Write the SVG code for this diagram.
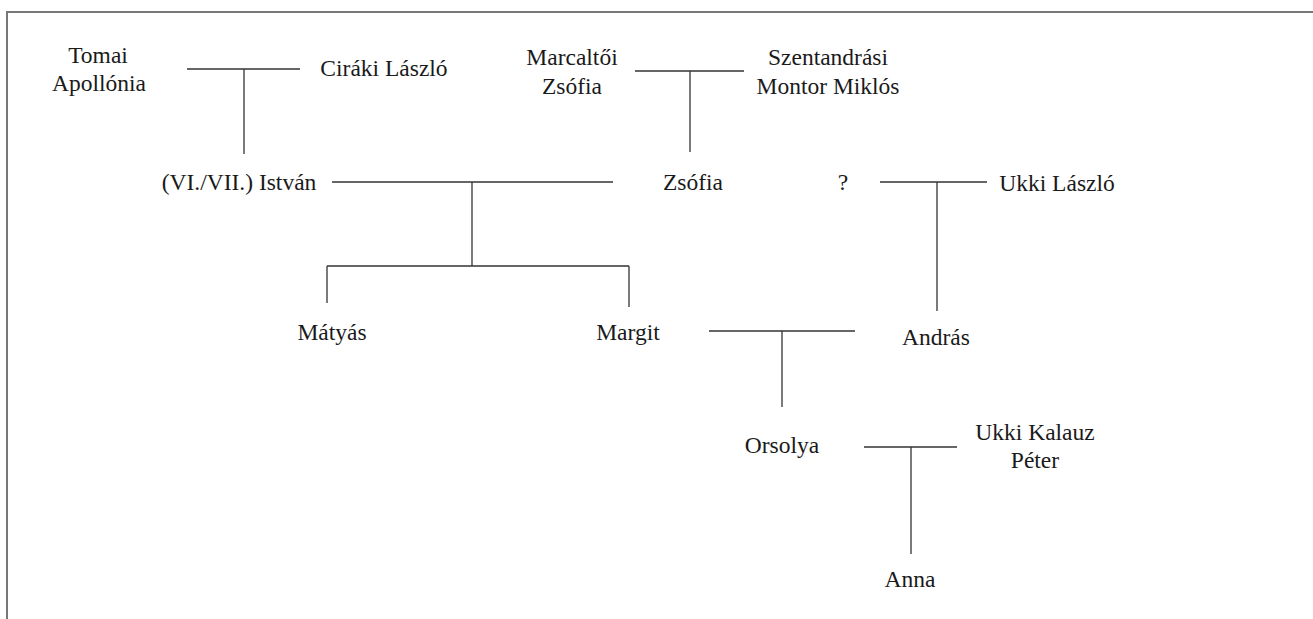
<svg xmlns="http://www.w3.org/2000/svg" width="1313" height="619" viewBox="0 0 1313 619">
<style>
.t text{font-size:23.5px;fill:#1a1a1a;text-anchor:middle}
.c line{stroke:#333;stroke-width:1.3;fill:none}
.frame{stroke:#777;stroke-width:2;fill:none}
</style>
<rect width="1313" height="619" fill="#fff"/>
<path class="frame" d="M7 640 V12 H1320"/>
<g id="connectors" class="c">
<line x1="187" y1="69" x2="300" y2="69"/>
<line x1="244" y1="69" x2="244" y2="154"/>
<line x1="635" y1="71" x2="744" y2="71"/>
<line x1="690" y1="71" x2="690" y2="152"/>
<line x1="332" y1="182" x2="613" y2="182"/>
<line x1="472" y1="182" x2="472" y2="266"/>
<line x1="327" y1="266" x2="629" y2="266"/>
<line x1="327" y1="266" x2="327" y2="303"/>
<line x1="629" y1="266" x2="629" y2="307"/>
<line x1="880" y1="182" x2="987" y2="182"/>
<line x1="937" y1="182" x2="937" y2="311"/>
<line x1="709" y1="331" x2="855" y2="331"/>
<line x1="782" y1="331" x2="782" y2="407"/>
<line x1="864" y1="447" x2="957" y2="447"/>
<line x1="911" y1="447" x2="911" y2="554"/>
</g>
<g class="t" font-family="'Liberation Serif', 'Times New Roman', Times, 'DejaVu Serif', serif">
<g id="tomai-apollonia"><text x="98" y="63">Tomai</text><text x="99" y="91">Apollónia</text></g>
<g id="ciraki-laszlo"><text x="384" y="76">Ciráki László</text></g>
<g id="marcaltoi-zsofia"><text x="572" y="65">Marcaltői</text><text x="572" y="94">Zsófia</text></g>
<g id="szentandrasi-montor-miklos"><text x="828" y="65">Szentandrási</text><text x="828" y="94">Montor Miklós</text></g>
<g id="istvan"><text x="239" y="190">(VI./VII.) István</text></g>
<g id="zsofia"><text x="693" y="190">Zsófia</text></g>
<g id="unknown"><text x="843" y="190">?</text></g>
<g id="ukki-laszlo"><text x="1057" y="191">Ukki László</text></g>
<g id="matyas"><text x="332" y="340">Mátyás</text></g>
<g id="margit"><text x="628" y="340">Margit</text></g>
<g id="andras"><text x="936" y="345">András</text></g>
<g id="orsolya"><text x="782" y="453">Orsolya</text></g>
<g id="ukki-kalauz-peter"><text x="1035" y="440">Ukki Kalauz</text><text x="1035" y="468">Péter</text></g>
<g id="anna"><text x="910" y="587">Anna</text></g>
</g>
</svg>
